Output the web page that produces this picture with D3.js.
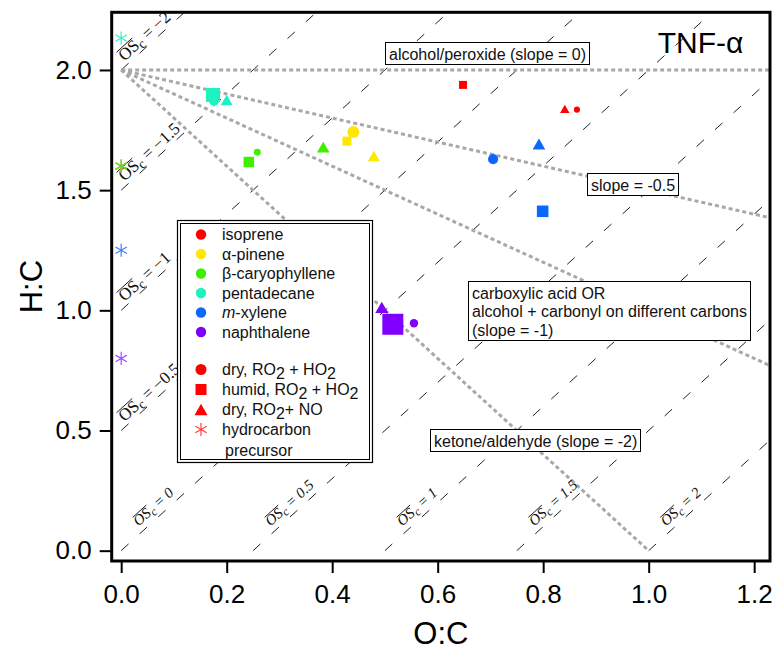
<!DOCTYPE html>
<html>
<head>
<meta charset="utf-8">
<script src="https://cdn.jsdelivr.net/npm/d3@7"></script>
<style>
  body { margin: 0; background: #fff; }
  text { font-family: Arial, "Liberation Sans", sans-serif; }
</style>
</head>
<body>
<svg id="chart" width="777" height="653"></svg>
<script>
// ---- data ----
var precursors = ["isoprene", "α-pinene", "β-caryophyllene", "pentadecane", "m-xylene", "naphthalene"];
var precursorColors = ["#ff0000", "#ffe800", "#3cf000", "#1ef2c0", "#0a68ff", "#8000ff"];
var starColors = ["#ff4040", "#ffe840", "#44e030", "#30f0c8", "#3c80ff", "#a050ff"];

// dry, RO2 + HO2 (circles)
var dryHO2_OC = [0.864, 0.440, 0.258, 0.176, 0.705, 0.555];
var dryHO2_HC = [1.835, 1.742, 1.658, 1.872, 1.629, 0.946];
var dryHO2_tnf = [0.29, 0.57, 0.33, 0.48, 0.48, 0.40];
// humid, RO2 + HO2 (squares)
var humidHO2_OC = [0.648, 0.428, 0.242, 0.174, 0.799, 0.515];
var humidHO2_HC = [1.938, 1.704, 1.617, 1.896, 1.412, 0.942];
var humidHO2_tnf = [0.38, 0.43, 0.50, 0.67, 0.55, 1.00];
// dry, RO2 + NO (triangles)
var dryNO_OC = [0.841, 0.479, 0.383, 0.200, 0.792, 0.494];
var dryNO_HC = [1.838, 1.642, 1.679, 1.875, 1.692, 1.012];
var dryNO_tnf = [0.45, 0.57, 0.60, 0.57, 0.60, 0.62];
// hydrocarbon precursor (asterisks, O:C = 0)
var precursorHC = [1.6, 1.6, 1.6, 2.133, 1.25, 0.8];

var xTicks = [0, 0.2, 0.4, 0.6, 0.8, 1.0, 1.2];
var yTicks = [0, 0.5, 1.0, 1.5, 2.0];
var oscValues = [-2, -1.5, -1, -0.5, 0, 0.5, 1, 1.5, 2];
var oscLabels = ["−2", "−1.5", "−1", "−0.5", "0", "0.5", "1", "1.5", "2"];
var slopes = [0, -0.5, -1, -2];

// ---- setup ----
var svg = d3.select("#chart");
var x = d3.scaleLinear().domain([-0.018, 1.23]).range([111.7, 770]);
var y = d3.scaleLinear().domain([-0.043, 2.24]).range([561, 12.3]);
var size = d3.scaleLinear().domain([0, 1]).range([0, 21]);

svg.append("clipPath").attr("id", "clip").append("rect")
  .attr("x", x(-0.018)).attr("y", y(2.24))
  .attr("width", x(1.23) - x(-0.018)).attr("height", y(-0.043) - y(2.24));

var plot = svg.append("g").attr("clip-path", "url(#clip)");

// OSc iso-lines: H:C = 2*O:C - OSc
oscValues.forEach(function(os) {
  var xs = Math.max(0, os / 2), ys = 2 * xs - os;
  var xe = (2.24 + os) / 2;
  if (xe > 1.23) xe = 1.23;
  var ye = 2 * xe - os;
  plot.append("line")
    .attr("x1", x(xs)).attr("y1", y(ys))
    .attr("x2", x(xe)).attr("y2", y(ye))
    .attr("stroke", "#222").attr("stroke-width", 1)
    .attr("stroke-dasharray", "10,15");
});

// functional-group slope lines from (0, 2)
slopes.forEach(function(s) {
  var xe = 1.23;
  if (s < 0 && 2 + s * xe < 0) xe = -2 / s;
  plot.append("line")
    .attr("x1", x(0)).attr("y1", y(2))
    .attr("x2", x(xe)).attr("y2", y(2 + s * xe))
    .attr("stroke", "#a8a8a8").attr("stroke-width", 3)
    .attr("stroke-dasharray", "4,3");
});

// OSc labels
var ang = Math.atan2(y(0) - y(2), x(1) - x(0)) * 180 / Math.PI;
oscValues.forEach(function(os, i) {
  var neg = os < 0;
  var xs = Math.max(0, os / 2), ys = 2 * xs - os;
  var t = neg ? 8 : 29, d = neg ? 4 : 6;
  var fs = neg ? 17 : 15;
  var rad = ang * Math.PI / 180;
  var px = x(xs) + t * Math.cos(rad) - d * Math.sin(rad);
  var py = y(ys) - t * Math.sin(rad) - d * Math.cos(rad);
  var g = plot.append("g")
    .attr("transform", "translate(" + px + "," + py + ") rotate(" + (-ang) + ")");
  var txt = g.append("text")
    .style("font-family", "'Liberation Serif', 'DejaVu Serif', serif")
    .style("font-style", neg ? "normal" : "italic")
    .attr("font-size", fs)
    .attr("fill", "#111");
  var os1 = txt.append("tspan").text("OS");
  txt.append("tspan").attr("dy", 3).attr("font-size", fs * 0.8).text("c");
  txt.append("tspan").attr("dy", -3).text(" = " + oscLabels[i]);
  var w = os1.node().getComputedTextLength();
  var oy = -fs * 0.72;
  g.append("line").attr("x1", neg ? 0.5 : 2).attr("x2", w + (neg ? 0 : 2))
    .attr("y1", oy).attr("y2", oy).attr("stroke", "#111").attr("stroke-width", 0.9);
});

// ---- axes ----
var xAxisG = svg.append("g").attr("transform", "translate(0," + y(-0.043) + ")");
xAxisG.call(d3.axisBottom(x).tickValues(d3.range(0, 1.2201, 0.02)).tickSize(6).tickFormat(""));
xAxisG.call(d3.axisBottom(x).tickValues(xTicks).tickSize(12).tickPadding(12).tickFormat(d3.format(".1f")));
var yAxisG = svg.append("g").attr("transform", "translate(" + x(-0.018) + ",0)");
yAxisG.call(d3.axisLeft(y).tickValues(d3.range(0, 2.2001, 0.1)).tickSize(6).tickFormat(""));
yAxisG.call(d3.axisLeft(y).tickValues(yTicks).tickSize(12).tickPadding(8).tickFormat(d3.format(".1f")));
svg.selectAll(".domain").remove();
svg.selectAll(".tick line").attr("stroke", "#000").attr("stroke-width", 2);
svg.selectAll(".tick text").attr("font-size", 26).attr("fill", "#000")
  .style("font-family", "Arial, 'Liberation Sans', sans-serif");

svg.append("rect")
  .attr("x", x(-0.018)).attr("y", y(2.24))
  .attr("width", x(1.23) - x(-0.018)).attr("height", y(-0.043) - y(2.24))
  .attr("fill", "none").attr("stroke", "#000").attr("stroke-width", 3);

svg.append("text").attr("x", (x(-0.018) + x(1.23)) / 2).attr("y", 644)
  .attr("text-anchor", "middle").attr("font-size", 31).text("O:C");
svg.append("text").attr("transform", "translate(42," + ((y(2.24) + y(-0.043)) / 2) + ") rotate(-90)")
  .attr("text-anchor", "middle").attr("font-size", 31).text("H:C");

// ---- annotation boxes ----
function annot(x0, y0, lines) {
  var g = svg.append("g");
  var left = Math.round(x(x0)) + 0.5, top = Math.round(y(y0)) + 0.5;
  var t = g.append("text").attr("font-size", 16).attr("fill", "#111");
  lines.forEach(function(l, i) {
    t.append("tspan").attr("x", left + 3.5).attr("y", top + 17 + i * 18.5).text(l);
  });
  var b = t.node().getBBox();
  g.insert("rect", "text").attr("x", left).attr("y", top)
    .attr("width", Math.round(b.width + 7)).attr("height", Math.round(b.y + b.height - top + 2))
    .attr("fill", "#fff").attr("stroke", "#000").attr("stroke-width", 1);
}
annot(0.500, 2.117, ["alcohol/peroxide (slope = 0)"]);
annot(0.883, 1.572, ["slope = -0.5"]);
annot(0.658, 1.122, ["carboxylic acid OR", "alcohol + carbonyl on different carbons", "(slope = -1)"]);
annot(0.585, 0.506, ["ketone/aldehyde (slope = -2)"]);

svg.append("text").attr("x", x(1.017)).attr("y", y(2.071))
  .attr("font-size", 30).attr("fill", "#000").text("TNF-α");

// ---- markers ----
var tri = function(w) {
  var h = w * 0.866;
  return "M0," + (-h / 2) + "L" + (w / 2) + "," + (h / 2) + "L" + (-w / 2) + "," + (h / 2) + "Z";
};
var star = d3.symbol().type(d3.symbolAsterisk).size(120);

var pts = svg.append("g");
precursorHC.forEach(function(hc, i) {
  pts.append("path").attr("d", star()).attr("transform", "translate(" + x(0) + "," + y(hc) + ")")
    .attr("fill", "none").attr("stroke", starColors[i]).attr("stroke-width", 1.2);
});
precursors.forEach(function(p, i) {
  pts.append("circle").attr("cx", x(dryHO2_OC[i])).attr("cy", y(dryHO2_HC[i]))
    .attr("r", size(dryHO2_tnf[i]) / 2).attr("fill", precursorColors[i]);
  var s = size(humidHO2_tnf[i]);
  pts.append("rect").attr("x", x(humidHO2_OC[i]) - s / 2).attr("y", y(humidHO2_HC[i]) - s / 2)
    .attr("width", s).attr("height", s).attr("fill", precursorColors[i]);
  pts.append("path").attr("d", tri(size(dryNO_tnf[i])))
    .attr("transform", "translate(" + x(dryNO_OC[i]) + "," + y(dryNO_HC[i]) + ")")
    .attr("fill", precursorColors[i]);
});

// ---- legend ----
var lg = svg.append("g");
lg.append("rect").attr("x", 177.5).attr("y", 220.5).attr("width", 195).attr("height", 242)
  .attr("fill", "#fff").attr("stroke", "#000").attr("stroke-width", 1.2);
lg.append("rect").attr("x", 180.5).attr("y", 223.5).attr("width", 189).attr("height", 236)
  .attr("fill", "none").attr("stroke", "#000").attr("stroke-width", 1);

var mx = 201, tx = 222;
precursors.forEach(function(p, i) {
  var yy = 234.5 + i * 19.5;
  lg.append("circle").attr("cx", mx).attr("cy", yy).attr("r", 5.2).attr("fill", precursorColors[i]);
  var t = lg.append("text").attr("x", tx).attr("y", yy + 5.5).attr("font-size", 16).attr("fill", "#111");
  if (p === "m-xylene") {
    t.append("tspan").style("font-style", "italic").text("m");
    t.append("tspan").text("-xylene");
  } else t.text(p);
});

var condRows = [
  { shape: "circle", parts: ["dry, RO", "2", " + HO", "2"] },
  { shape: "square", parts: ["humid, RO", "2", " + HO", "2"] },
  { shape: "triangle", parts: ["dry, RO", "2", "+ NO"] },
  { shape: "star", parts: ["hydrocarbon"] }
];
condRows.forEach(function(r, i) {
  var yy = 369.5 + i * 20;
  if (r.shape === "circle") lg.append("circle").attr("cx", mx).attr("cy", yy).attr("r", 5.5).attr("fill", "#ff0000");
  if (r.shape === "square") lg.append("rect").attr("x", mx - 5.5).attr("y", yy - 5.5).attr("width", 11).attr("height", 11).attr("fill", "#ff0000");
  if (r.shape === "triangle") lg.append("path").attr("d", tri(13)).attr("transform", "translate(" + mx + "," + yy + ")").attr("fill", "#ff0000");
  if (r.shape === "star") lg.append("path").attr("d", star()).attr("transform", "translate(" + mx + "," + yy + ")")
    .attr("fill", "none").attr("stroke", "#ff4040").attr("stroke-width", 1.2);
  var t = lg.append("text").attr("x", tx).attr("y", yy + 5.5).attr("font-size", 16).attr("fill", "#111");
  r.parts.forEach(function(s, k) {
    var sub = s === "2";
    t.append("tspan").attr("dy", sub ? 4 : (k > 0 ? -4 : 0)).text(s);
  });
});
lg.append("text").attr("x", tx + 3).attr("y", 455.5).attr("font-size", 16).attr("fill", "#111").text("precursor");
</script>
</body>
</html>
